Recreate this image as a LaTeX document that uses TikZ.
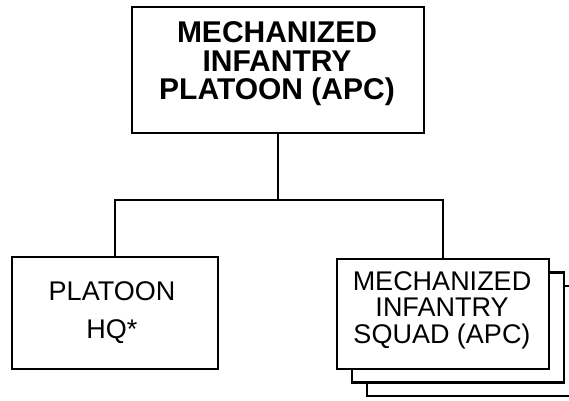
\documentclass[tikz,border=0pt]{standalone}
\usepackage{fontspec}
\setmainfont{Liberation Sans}
\usetikzlibrary{positioning}

\begin{document}
\begin{tikzpicture}[x=1pt, y=-1pt,
    unitbox/.style={draw, line width=2.4pt, fill=white, inner sep=0pt},
    link/.style={line width=2.8pt},
    boldtext/.style={font=\fontsize{30}{28.5}\selectfont\bfseries, align=center, inner sep=0pt},
    plaintext/.style={font=\fontsize{27}{26.5}\selectfont, align=center, inner sep=0pt}]

% Page size
\useasboundingbox (0,0) rectangle (569,400);

% Platoon box at the top
\node[unitbox, minimum width=292pt, minimum height=126pt] (plt) at (278,70) {};
\node[boldtext] (plttext) at (277,64) {MECHANIZED\\INFANTRY\\PLATOON (APC)};

% Connectors
\coordinate (split) at (279,200);
\draw[link] (plt.south) -- (plt.south |- split);
\draw[link] (115,258) |- (split) -| (443,259);

% Headquarters box
\node[unitbox, minimum width=206pt, minimum height=112pt] (hq) at (115,313) {};
\node[plaintext, font=\fontsize{27}{38}\selectfont] (hqtext) at (112,312.5) {PLATOON\\HQ*};

% Squad boxes stacked behind each other
\foreach \i in {2,1} {
    \node[unitbox, minimum width=212pt, minimum height=110pt] (sqd\i) at ({443+15*\i},{314+13.5*\i}) {};
}
\node[unitbox, minimum width=212pt, minimum height=110pt] (sqd) at (443,314) {};
\node[plaintext] (sqdtext) at (442,310) {MECHANIZED\\INFANTRY\\SQUAD (APC)};

\end{tikzpicture}
\end{document}
